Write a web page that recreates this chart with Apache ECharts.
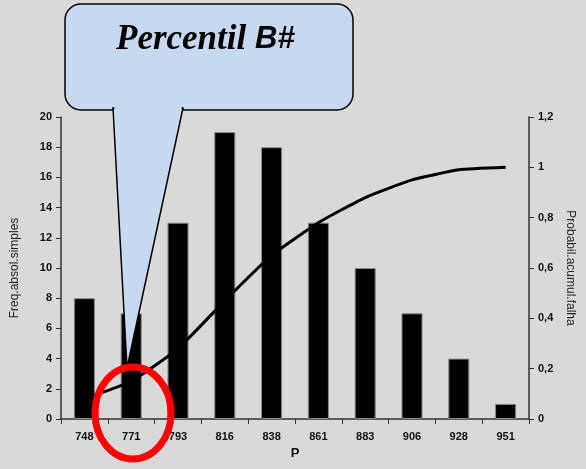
<!DOCTYPE html>
<html>
<head>
<meta charset="utf-8">
<script src="https://cdn.jsdelivr.net/npm/echarts@6/dist/echarts.min.js"></script>
<style>
  html, body { margin: 0; padding: 0; background: #d9d9d9; }
  #chart { width: 586px; height: 469px; }
</style>
</head>
<body>
<div id="chart"></div>
<script>
  // classes (P) and simple absolute frequencies
  var categories = ['748', '771', '793', '816', '838', '861', '883', '906', '928', '951']
  var freqValues = [8, 7, 13, 19, 18, 13, 10, 7, 4, 1]
  // cumulative failure probability
  var cumProb = [0.08, 0.15, 0.28, 0.47, 0.65, 0.78, 0.88, 0.95, 0.99, 1.0]

  var chart = echarts.init(document.getElementById('chart'))

  var axisLine = { show: true, lineStyle: { color: '#333', width: 1.5 } }
  var tickLbl = { color: '#111', fontFamily: 'Liberation Sans', fontWeight: 'bold', fontSize: 11 }

  var option = {
    backgroundColor: '#d9d9d9',
    animation: false,
    grid: { left: 61, right: 57, top: 117, bottom: 50 },
    xAxis: {
      type: 'category',
      data: categories,
      name: 'P',
      nameLocation: 'middle',
      nameGap: 27,
      nameTextStyle: { fontFamily: 'Liberation Sans', fontWeight: 'bold', fontSize: 13, color: '#111' },
      axisLine: axisLine,
      axisTick: { show: true, length: 5, lineStyle: { color: '#333' } },
      axisLabel: Object.assign({ margin: 12 }, tickLbl),
      splitLine: { show: false }
    },
    yAxis: [{
      type: 'value',
      min: 0, max: 20, interval: 2,
      name: 'Freq.absol.simples',
      nameLocation: 'middle',
      nameGap: 40,
      nameTextStyle: { fontFamily: 'Liberation Sans', fontSize: 12, color: '#222' },
      axisLine: axisLine,
      axisTick: { show: true, length: 5, lineStyle: { color: '#333' } },
      axisLabel: Object.assign({ margin: 9 }, tickLbl),
      splitLine: { show: false }
    }, {
      type: 'value',
      min: 0, max: 1.2, interval: 0.2,
      position: 'right',
      name: 'Probabil.acumul.falha',
      nameLocation: 'middle',
      nameGap: 34,
      nameRotate: -90,
      nameTextStyle: { fontFamily: 'Liberation Sans', fontSize: 12, color: '#222' },
      axisLine: axisLine,
      axisTick: { show: true, length: 5, lineStyle: { color: '#333' } },
      axisLabel: Object.assign({
        margin: 9,
        formatter: function (v) { return String(Math.round(v * 10) / 10).replace('.', ',') }
      }, tickLbl),
      splitLine: { show: false }
    }],
    series: [{
      name: 'Freq',
      type: 'bar',
      yAxisIndex: 0,
      data: freqValues,
      barWidth: '45%',
      itemStyle: { color: '#000', borderColor: '#888', borderWidth: 1 }
    }, {
      name: 'Prob',
      type: 'line',
      yAxisIndex: 1,
      data: cumProb,
      smooth: 0.15,
      showSymbol: false,
      lineStyle: { color: '#000', width: 3 },
      z: 3
    }],
    graphic: [{
      // speech bubble
      type: 'rect',
      shape: { x: 65, y: 4, width: 288, height: 106, r: 16 },
      style: { fill: '#c6d9f0', stroke: '#000', lineWidth: 1.5 },
      z: 10
    }, {
      type: 'polygon',
      shape: { points: [[113, 108], [183, 108], [127, 368]] },
      style: { fill: '#c6d9f0', stroke: '#000', lineWidth: 1.5 },
      z: 10
    }, {
      type: 'rect',
      shape: { x: 114.5, y: 104, width: 67, height: 6 },
      style: { fill: '#c6d9f0', stroke: null },
      z: 11
    }, {
      type: 'text',
      left: 116,
      top: 22,
      style: {
        text: '{a|Percentil }{b|B#}',
        rich: {
          a: { fontFamily: 'Liberation Serif', fontStyle: 'italic', fontWeight: 'bold', fontSize: 35, fill: '#000' },
          b: { fontFamily: 'Liberation Sans', fontStyle: 'italic', fontWeight: 'bold', fontSize: 31, fill: '#000' }
        }
      },
      z: 12
    }, {
      // red circle highlight
      type: 'ellipse',
      shape: { cx: 133, cy: 413, rx: 38, ry: 46 },
      style: { fill: null, stroke: '#ff0000', lineWidth: 7 },
      z: 13
    }]
  }

  chart.setOption(option)
</script>
</body>
</html>
